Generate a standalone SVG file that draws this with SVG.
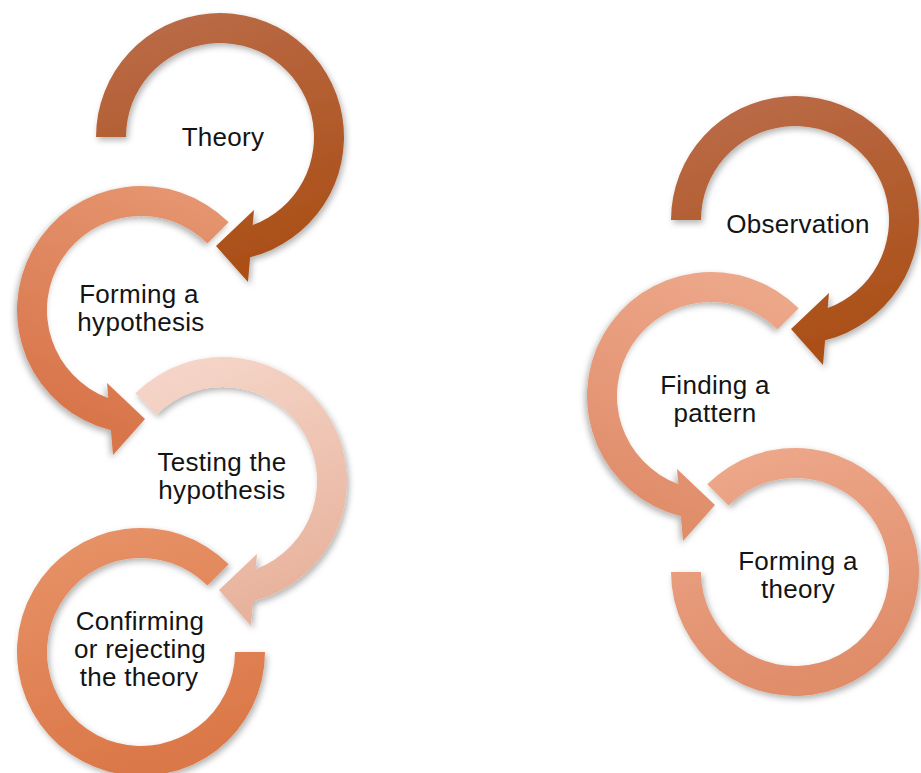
<svg xmlns="http://www.w3.org/2000/svg" xmlns:xlink="http://www.w3.org/1999/xlink" width="921" height="773" viewBox="0 0 921 773">
  <style>
    .lbl { font-family: "Liberation Sans", Arial, sans-serif; font-size: 26px; letter-spacing: 0.3px; fill: #141414; text-anchor: middle; }
    .ring { filter: url(#shadow); }
  </style>
  <defs>
    <filter id="shadow" x="-20%" y="-20%" width="140%" height="140%">
      <feDropShadow dx="2" dy="3" stdDeviation="3" flood-color="#000" flood-opacity="0.3"/>
    </filter>
    <!-- circular arrow, ring centred on origin, outer r 124, inner r 94 -->
    <!-- starts at 9 o'clock, runs clockwise, head at the bottom -->
    <path id="arcFromLeft" d="M -124 0 A 124 124 0 1 1 30.1 120.3 L 28 145 L -4 109 L 34 73 L 32.7 88.1 A 94 94 0 1 0 -94 0 Z"/>
    <!-- starts at upper left (-135deg), runs clockwise, head at the bottom -->
    <path id="arcFromUpperLeft" d="M -87.68 -87.68 A 124 124 0 1 1 30.1 120.3 L 28 145 L -4 109 L 34 73 L 32.7 88.1 A 94 94 0 1 0 -66.47 -66.47 Z"/>
    <!-- last ring: upper right to 3 o'clock, counter-clockwise, flat end -->
    <path id="endRight" d="M 87.68 -87.68 A 124 124 0 1 0 124 0 L 94 0 A 94 94 0 1 1 66.47 -66.47 Z"/>
    <!-- last ring: upper left to 9 o'clock, clockwise, flat end -->
    <path id="endLeft" d="M -87.68 -87.68 A 124 124 0 1 1 -124 0 L -94 0 A 94 94 0 1 0 -66.47 -66.47 Z"/>

    <linearGradient id="gDark" x1="0" y1="0" x2="0.3" y2="1">
      <stop offset="0" stop-color="#bb6d4b"/>
      <stop offset="1" stop-color="#ab5019"/>
    </linearGradient>
    <linearGradient id="gMid" x1="0" y1="0" x2="0.3" y2="1">
      <stop offset="0" stop-color="#e69873"/>
      <stop offset="1" stop-color="#d8744a"/>
    </linearGradient>
    <linearGradient id="gPale" x1="0" y1="0" x2="0.3" y2="1">
      <stop offset="0" stop-color="#f6d8cc"/>
      <stop offset="1" stop-color="#e8b39d"/>
    </linearGradient>
    <linearGradient id="gOrange" x1="0" y1="0" x2="0.3" y2="1">
      <stop offset="0" stop-color="#e8946a"/>
      <stop offset="1" stop-color="#db7849"/>
    </linearGradient>
    <linearGradient id="gLight" x1="0" y1="0" x2="0.3" y2="1">
      <stop offset="0" stop-color="#eeaa8d"/>
      <stop offset="1" stop-color="#e08d6a"/>
    </linearGradient>
  </defs>

  <rect width="921" height="773" fill="#ffffff"/>

  <!-- deductive cycle (left) -->
  <g id="theory">
    <use class="ring" xlink:href="#arcFromLeft" transform="translate(220,137)" fill="url(#gDark)"/>
    <text class="lbl" x="223" y="146">Theory</text>
  </g>
  <g id="forming-hypothesis">
    <use class="ring" xlink:href="#arcFromUpperLeft" transform="translate(141,310) scale(-1,1)" fill="url(#gMid)"/>
    <text class="lbl" x="139" y="303">Forming a</text>
    <text class="lbl" x="141" y="331">hypothesis</text>
  </g>
  <g id="testing-hypothesis">
    <use class="ring" xlink:href="#arcFromUpperLeft" transform="translate(223,481)" fill="url(#gPale)"/>
    <text class="lbl" x="222" y="471">Testing the</text>
    <text class="lbl" x="222" y="499">hypothesis</text>
  </g>
  <g id="confirming-rejecting">
    <use class="ring" xlink:href="#endRight" transform="translate(141,652)" fill="url(#gOrange)"/>
    <text class="lbl" x="140" y="630">Confirming</text>
    <text class="lbl" x="140" y="658">or rejecting</text>
    <text class="lbl" x="139" y="686">the theory</text>
  </g>

  <!-- inductive cycle (right) -->
  <g id="observation">
    <use class="ring" xlink:href="#arcFromLeft" transform="translate(795,220)" fill="url(#gDark)"/>
    <text class="lbl" x="798" y="233">Observation</text>
  </g>
  <g id="finding-pattern">
    <use class="ring" xlink:href="#arcFromUpperLeft" transform="translate(711,396) scale(-1,1)" fill="url(#gLight)"/>
    <text class="lbl" x="715" y="394">Finding a</text>
    <text class="lbl" x="715" y="422">pattern</text>
  </g>
  <g id="forming-theory">
    <use class="ring" xlink:href="#endLeft" transform="translate(795,572)" fill="url(#gLight)"/>
    <text class="lbl" x="798" y="570">Forming a</text>
    <text class="lbl" x="798" y="598">theory</text>
  </g>
</svg>
